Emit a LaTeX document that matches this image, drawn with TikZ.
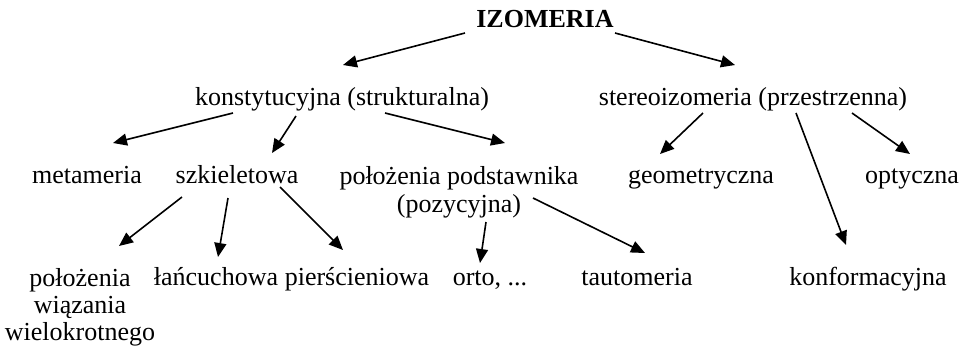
\documentclass[tikz,border=0pt]{standalone}
\usepackage{fontspec}
\setmainfont{Liberation Serif}
\usepackage{tikz}
\usetikzlibrary{arrows.meta}
\tikzset{
  termnode/.style = {inner sep=0pt, anchor=base, align=center,
                     font=\fontsize{13}{14}\selectfont},
  headnode/.style = {termnode, font=\fontsize{13}{14}\selectfont\bfseries},
  isoarr/.style   = {-{Triangle[length=7pt,width=6pt]}, line width=0.8pt}
}

\begin{document}
\begin{tikzpicture}[x=0.5pt,y=-0.5pt]
  \useasboundingbox (0,0) rectangle (966,350);
  % top
  \node[headnode] (izo) at (545,27) {IZOMERIA};
  \node[termnode] (konst) at (342,105) {konstytucyjna (strukturalna)};
  \node[termnode] (stereo) at (753,105) {stereoizomeria (przestrzenna)};
  % second row (base = last line)
  \node[termnode] (meta) at (87,183) {metameria};
  \node[termnode] (szkiel) at (237,183) {szkieletowa};
  \node[termnode] (podst) at (459,212) {położenia podstawnika\\(pozycyjna)};
  \node[termnode] (geom) at (701,183) {geometryczna};
  \node[termnode] (opt) at (912,183) {optyczna};
  % third row
  \node[termnode,font=\fontsize{13}{13.4}\selectfont] (wiaz) at (80,340)
       {położenia\\wiązania\\wielokrotnego};
  \node[termnode] (lanc) at (216,285) {łańcuchowa};
  \node[termnode] (piersc) at (357,285) {pierścieniowa};
  \node[termnode] (orto) at (490,285) {orto, ...};
  \node[termnode] (taut) at (637,285) {tautomeria};
  \node[termnode] (konf) at (868,285) {konformacyjna};
  % arrows
  \draw[isoarr] ([shift={(-80,6)}]izo.base) -- ([shift={(1,-40)}]konst.base);
  \draw[isoarr] ([shift={(70,6)}]izo.base) -- ([shift={(-18,-40)}]stereo.base);
  \draw[isoarr] ([shift={(-109,8)}]konst.base) -- ([shift={(26,-40)}]meta.base);
  \draw[isoarr] ([shift={(-46,11)}]konst.base) -- ([shift={(35,-30)}]szkiel.base);
  \draw[isoarr] ([shift={(43,8)}]konst.base) -- ([shift={(46,-69)}]podst.base);
  \draw[isoarr] ([shift={(-50,8)}]stereo.base) -- ([shift={(-41,-29)}]geom.base);
  \draw[isoarr] ([shift={(43,8)}]stereo.base) -- ([shift={(-22,-40)}]konf.base);
  \draw[isoarr] ([shift={(99,8)}]stereo.base) -- ([shift={(-2,-29)}]opt.base);
  \draw[isoarr] ([shift={(-55,14)}]szkiel.base) -- ([shift={(39,-94)}]wiaz.base);
  \draw[isoarr] ([shift={(-9,15)}]szkiel.base) -- ([shift={(2,-28)}]lanc.base);
  \draw[isoarr] ([shift={(43,4)}]szkiel.base) -- ([shift={(-14,-35)}]piersc.base);
  \draw[isoarr] ([shift={(27,10)}]podst.base) -- ([shift={(-10,-22)}]orto.base);
  \draw[isoarr] ([shift={(74,-14)}]podst.base) -- ([shift={(8,-32)}]taut.base);
\end{tikzpicture}
\end{document}
